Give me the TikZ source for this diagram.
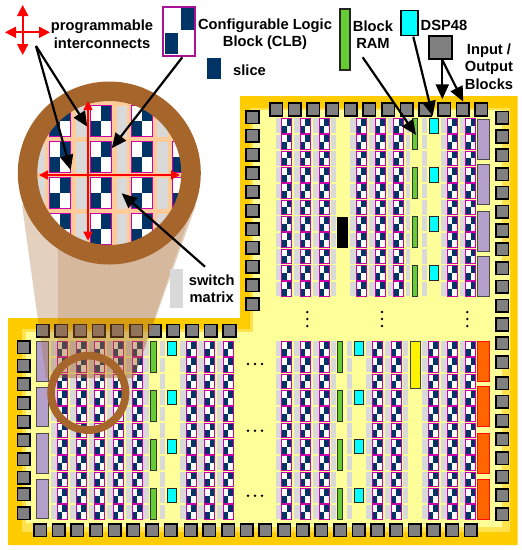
\documentclass[tikz,border=0pt]{standalone}
\usepackage{fontspec}
\setmainfont{Liberation Sans}
\usetikzlibrary{arrows.meta}
\definecolor{gold}{HTML}{FFCC00}
\definecolor{midgold}{HTML}{FFE24D}
\definecolor{pale}{HTML}{FFFF99}
\definecolor{navy}{HTML}{003366}
\definecolor{mag}{HTML}{CC00AA}
\definecolor{legmag}{HTML}{AA1199}
\definecolor{bar}{HTML}{D9D9D9}
\definecolor{peach}{HTML}{FFCC99}
\definecolor{iog}{HTML}{808080}
\definecolor{ringc}{HTML}{A6652B}
\definecolor{purp}{HTML}{B39FC9}
\definecolor{org}{HTML}{FF6600}
\definecolor{grn}{HTML}{66CC33}
\definecolor{cyn}{HTML}{00FFFF}
\tikzset{
  iob/.style={fill=iog,draw=black,line width=1.6pt},
  purpb/.style={fill=purp,draw=black!70,line width=.9pt},
  orgb/.style={fill=org,draw=red!90!orange,line width=.9pt},
  bramb/.style={fill=grn,draw=black!80,line width=.9pt},
  dspb/.style={fill=cyn,draw=black!85,line width=.9pt},
  label/.style={font=\fontsize{14.7}{17.3}\selectfont\bfseries,align=center,inner sep=0pt,text=black},
  blackarr/.style={draw=black,line width=2.2pt,-{Triangle[length=15pt,width=13pt]}},
  redarr/.style={draw=red,line width=1.5pt,{Triangle[length=9pt,width=9pt]}-{Triangle[length=9pt,width=9pt]}},
  redleg/.style={draw=red,line width=1.8pt,{Triangle[length=11pt,width=11pt]}-{Triangle[length=11pt,width=11pt]}}
}
% small CLB at left x, top y
\newcommand\myclb[2]{%
  \fill[white] (#1,#2) rectangle ++(10,14.7);
  \fill[navy] (#1+5,#2) rectangle ++(5,7.35);
  \fill[navy] (#1,#2+7.35) rectangle ++(5,7.35);
  \draw[mag,line width=.7pt] (#1,#2) rectangle ++(10,14.7);
}
\newcommand\mybigclb[2]{%
  \fill[white] (#1,#2) rectangle ++(20.7,31);
  \fill[navy] (#1+10.35,#2) rectangle ++(10.35,15.5);
  \fill[navy] (#1,#2+15.5) rectangle ++(10.35,15.5);
  \draw[mag,line width=.8pt] (#1,#2) rectangle ++(20.7,31);
}
\begin{document}
\begin{tikzpicture}[x=1pt,y=-1pt]
\useasboundingbox (0,0) rectangle (522,550);
\fill[white] (0,0) rectangle (522,550);
% die outline
\fill[gold] (240,96) -- (517.5,96) -- (517.5,545) -- (8,545) -- (8,318) -- (240,318) -- cycle;
\fill[midgold] (250,108) -- (510,108) -- (510,532) -- (22,532) -- (22,329) -- (250,329) -- cycle;
\fill[pale] (253,110) -- (502,110) -- (502,270) -- (510,270) -- (510,368) -- (502,368) -- (502,527) -- (35,527) -- (35,523) -- (26,523) -- (26,332) -- (253,332) -- cycle;
% upper region: switch bars
\foreach \r in {0,...,10}{
  \pgfmathsetmacro\yy{118.3+16.33*\r}
  \foreach \x/\w in {275.5/6.2,294/6.3,312.7/6.3,330.7/4.8,349.7/6.6,369/6,387.5/6.2,405.7/4.5,421.7/5,440.7/6.3,459.5/6.2}{
    \fill[bar] (\x,\yy) rectangle ++(\w,14.7);}
  \foreach \x in {281.7,300.3,319,356.3,375,393.7,447,465.7}{
    \myclb{\x}{\yy}}
  \pgfmathsetmacro\yl{341.3+16.33*\r}
  \foreach \x/\w in {51/6.3,69.7/6.3,88.5/6.2,107/6.3,125.7/6.3,142/6.7,160/5.3,180/6,198.3/6.4,217/6.3,275.5/6.2,294/6.3,312.7/6.3,331/4.5,347.3/4.7,366/6.3,385/6.3,403/5,422/6.3,441/6,459.5/6.2}{
    \fill[bar] (\x,\yl) rectangle ++(\w,14.7);}
  \foreach \x in {57.3,76,94.7,113.3,132,186,204.7,223.3,281.7,300.3,319,372.3,391.3,428.3,447,465.7}{
    \myclb{\x}{\yl}}
}
% BRAM and DSP columns
\foreach \k in {0,1,2,3}{
  \pgfmathsetmacro\yy{118.5+49*\k}
  \pgfmathsetmacro\yl{341.3+49*\k}
  \draw[bramb] (412.2,\yy) rectangle ++(5.4,30.7);
  \draw[dspb] (429,\yy) rectangle ++(9.7,14.5);
  \draw[bramb] (150.7,\yl) rectangle ++(5.4,30.7);
  \draw[dspb] (167.3,\yl) rectangle ++(9.4,14.2);
  \draw[bramb] (337.3,\yl) rectangle ++(5.4,30.7);
  \draw[dspb] (354,\yl) rectangle ++(9.7,14.2);
}
% large blocks
\fill[black] (337.3,216.7) rectangle (347.7,248.3);
\draw[fill=yellow,draw=black!75,line width=.9pt] (410,341) rectangle (420,388.3);
\foreach \t in {119,164.3,211.7,256.7}{
  \draw[purpb] (477.3,\t) rectangle ++(12,40);}
\foreach \t in {341.7,387,433.7,479.3}{
  \draw[purpb] (36.7,\t) rectangle ++(12,39.5);}
\foreach \t in {341,386.7,433.3,479.3}{
  \draw[orgb] (477.3,\t) rectangle ++(12.5,40);}
% I/O blocks
\foreach \k in {0,...,11}{
  \pgfmathsetmacro\xx{276+18.67*\k}
  \draw[iob] (\xx-6.3,103.2) rectangle ++(12.6,12.6);
}
\foreach \k in {0,...,13}{
  \pgfmathsetmacro\yy{117.7+18.8*\k}
  \draw[iob] (496,\yy-6.3) rectangle ++(12.6,12.6);
}
\foreach \yy in {383,401.7,420.7,439.3,458,476.7,495.3,514}{
  \draw[iob] (496,\yy-6.3) rectangle ++(12.6,12.6);}
\foreach \k in {0,...,10}{
  \pgfmathsetmacro\yy{117.3+18.67*\k}
  \draw[iob] (246.2,\yy-6.3) rectangle ++(12.6,12.6);
  \pgfmathsetmacro\xx{42.7+18.67*\k}
  \draw[iob] (\xx-6.3,324.5) rectangle ++(12.6,12.6);
}
\foreach \yy in {347,365.7,384.3,403,421.7,440.3,459,477.7,494.3,513}{
  \draw[iob] (17.4,\yy-6.3) rectangle ++(12.6,12.6);}
\foreach \k in {0,...,7}{
  \pgfmathsetmacro\xx{40+18.67*\k}
  \draw[iob] (\xx-6.3,524) rectangle ++(12.6,12.6);
}
\foreach \k in {0,...,15}{
  \pgfmathsetmacro\xx{190.7+18.67*\k}
  \draw[iob] (\xx-6.3,524) rectangle ++(12.6,12.6);
}
% continuation dots
\foreach \x/\y in {307.3/312,307.3/319,307.3/326,382/312,382/319,382/326,467.3/312,467.3/319,467.3/326,248/364,255/364,262/364,248/430.7,255/430.7,262/430.7,248/495.7,255/495.7,262/495.7}{
  \fill[black] (\x,\y) circle (1.3);}
% zoom cone
\fill[ringc,opacity=.3] (22,205) -- (196,205) -- (134,378) -- (46,378) -- cycle;
\fill[ringc,opacity=.22] (58,240) -- (190,215) -- (134,378) -- (58,378) -- cycle;
% switch matrix legend bar
\fill[bar] (170,269) rectangle (182.7,308.3);
% magnifier
\begin{scope}
  \clip (109.3,173) circle (73);
  \fill[peach] (30,95) rectangle (190,250);
  \foreach \t in {105.7,141.7,177.7,213.5}{
    \foreach \x/\w in {35/10,76/10.7,116.7/10.6,157.3/11}{
      \fill[bar] (\x,\t) rectangle ++(\w,31);}
    \foreach \x in {49.3,90.7,131.7,172.7}{
      \mybigclb{\x}{\t}}
  }
\end{scope}
\draw[ringc,line width=19.5pt] (109.3,173) circle (81.75);
\draw[ringc,line width=7.7pt] (88.3,392.9) circle (37.2);
% red interconnect arrows
\coordinate (vt) at (88,101);
\coordinate (vb) at (88,240.7);
\coordinate (hl) at (39,175);
\coordinate (hr) at (180,175);
\draw[redarr] (vt) -- (vb);
\draw[redarr] (hl) -- (hr);
\coordinate (lt) at (22.7,5);
\coordinate (lb) at (22.7,55);
\coordinate (ll) at (5,32.3);
\coordinate (lr) at (50,32.3);
\draw[redleg] (lt) -- (lb);
\draw[redleg] (ll) -- (lr);
% legend items
\node[draw=legmag,fill=white,line width=1.8pt,minimum width=32pt,minimum height=49pt,inner sep=0pt] (legclb) at (179.2,31.3) {};
\fill[navy] (180.5,8) rectangle (194,29.5);
\fill[navy] (164.5,33) rectangle (178,53.5);
\node[fill=navy,minimum width=14.6pt,minimum height=21pt,inner sep=0pt] (legslice) at (214,68.8) {};
\node[draw=black!85,fill=grn,line width=1.8pt,minimum width=10pt,minimum height=61pt,inner sep=0pt] (legbram) at (345,39.5) {};
\node[draw=black,fill=cyn,line width=1.8pt,minimum width=17pt,minimum height=25pt,inner sep=0pt] (legdsp) at (409.2,23) {};
\node[draw=black,fill=iog,line width=2.2pt,minimum width=23pt,minimum height=23pt,inner sep=0pt] (legio) at (440.8,47.5) {};
% labels
\node[label] (lprog) at (102,34.2) {programmable\\interconnects};
\node[label] (lclb) at (265,34.4) {Configurable Logic\\Block (CLB)};
\node[label,anchor=west] (lslice) at (233,70) {slice};
\node[label] (lbram) at (373,34.4) {Block\\RAM};
\node[label] (ldsp) at (444,25.7) {DSP48};
\node[label] (lio) at (489,66.7) {Input /\\Output\\Blocks};
\node[label] (lsw) at (211.7,289) {switch\\matrix};
% pointers
\coordinate (p0) at (36,46);
\coordinate (p1) at (87.3,126.7);
\coordinate (p2) at (70.7,170);
\coordinate (c1) at (111.7,148.3);
\coordinate (s0) at (205,266.7);
\coordinate (s1) at (121.7,193.3);
\coordinate (b0) at (362.7,57.3);
\coordinate (b1) at (416,135);
\coordinate (d1) at (432.7,116);
\coordinate (i1) at (442.3,99.3);
\coordinate (i2) at (463.3,101.7);
\draw[blackarr] (p0) -- (p1);
\draw[blackarr] (p0) -- (p2);
\draw[blackarr] (182.3,57.3) -- (c1);
\draw[blackarr] (s0) -- (s1);
\draw[blackarr] (b0) -- (b1);
\draw[blackarr] (413.3,36.7) -- (d1);
\draw[blackarr] (442.3,60) -- (i1);
\draw[blackarr] (442.3,60) -- (i2);
\end{tikzpicture}
\end{document}
